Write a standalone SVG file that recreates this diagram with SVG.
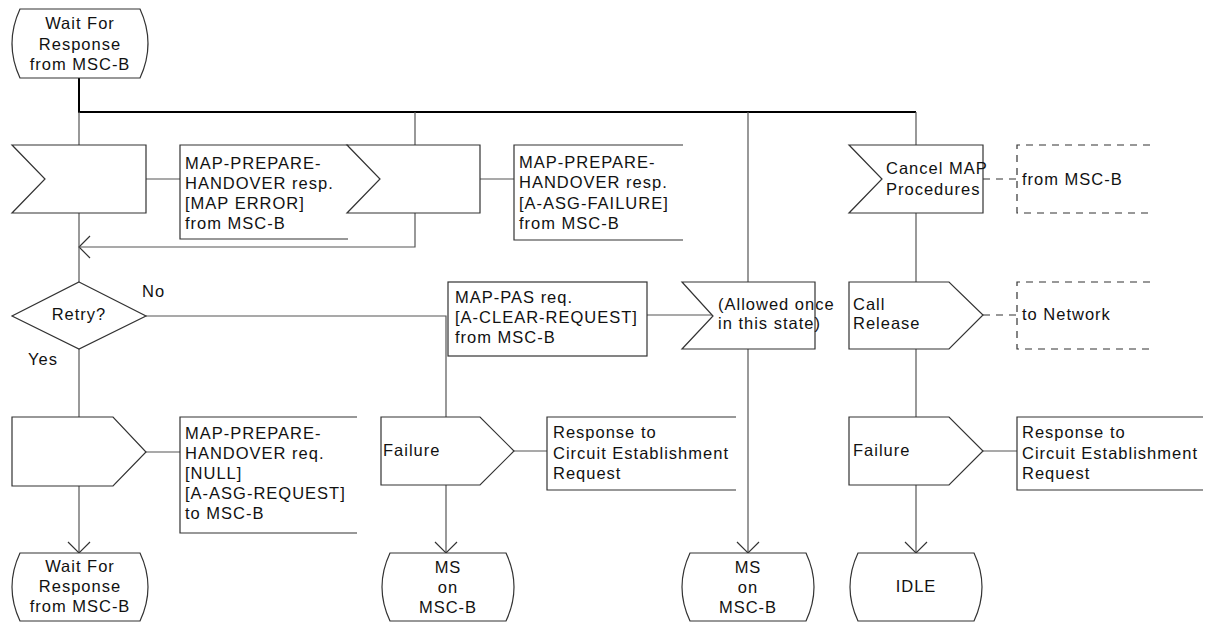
<svg xmlns="http://www.w3.org/2000/svg" width="1207" height="623" viewBox="0 0 1207 623">
<style>
.s{fill:#fff;stroke:#333;stroke-width:1.2}
.c{fill:none;stroke:#555;stroke-width:1.2}
.k{fill:none;stroke:#000;stroke-width:2}
.d{fill:none;stroke:#333;stroke-width:1.2;stroke-dasharray:7,6}
.b{fill:none;stroke:#333;stroke-width:1.2}
text{font-family:"Liberation Sans",Arial,sans-serif;font-size:16.5px;letter-spacing:1px;fill:#111}
.m{text-anchor:middle}
</style>
<defs>
<marker id="ar" markerUnits="userSpaceOnUse" markerWidth="24" markerHeight="24" viewBox="-12 -12 24 24" refX="0" refY="0" orient="auto">
<path d="M-11,-11 L0,0 L-11,11" fill="none" stroke="#333" stroke-width="1.2"/>
</marker>
</defs>
<g id="connectors">
<path class="k" d="M79,78 V112 H916"/>
<path class="c" d="M79,112 V145 M415,112 V145 M748,112 V282 M916,112 V145"/>
<path class="c" d="M146,179 H180 M480,179 H514"/>
<path class="c" d="M415,213 V247 H79" marker-end="url(#ar)"/>
<path class="c" d="M79,213 V282"/>
<path class="c" d="M146,316 H446 V417"/>
<path class="c" d="M79,349 V417"/>
<path class="c" d="M146,452 H180"/>
<path class="c" d="M79,486 V553" marker-end="url(#ar)"/>
<path class="c" d="M446,485 V553" marker-end="url(#ar)"/>
<path class="c" d="M514,451 H547"/>
<path class="c" d="M647,315 H713"/>
<path class="c" d="M748,349 V553" marker-end="url(#ar)"/>
<path class="d" d="M983,179 H1017"/>
<path class="c" d="M916,213 V282"/>
<path class="d" d="M983,315 H1017"/>
<path class="c" d="M916,349 V417"/>
<path class="c" d="M983,451 H1017"/>
<path class="c" d="M916,485 V553" marker-end="url(#ar)"/>
</g>
<g id="state_top">
<path class="s" d="M20,9 H140 Q156,43.5 140,78 H20 Q4,43.5 20,9 Z"/>
<text class="m" x="80" y="29">Wait For</text>
<text class="m" x="80" y="50">Response</text>
<text class="m" x="80" y="70">from MSC-B</text>
</g>
<g id="input_map_error">
<polygon class="s" points="12,145 146,145 146,213 12,213 45,179"/>
</g>
<g id="comment_map_error">
<path class="b" d="M348,145 H180 V239 H348"/>
<text x="185" y="169">MAP-PREPARE-</text>
<text x="185" y="189">HANDOVER resp.</text>
<text x="185" y="209">[MAP ERROR]</text>
<text x="185" y="229">from MSC-B</text>
</g>
<g id="input_asg_failure">
<polygon class="s" points="347,145 480,145 480,213 347,213 380,179"/>
</g>
<g id="comment_asg_failure">
<path class="b" d="M683,145 H514 V240 H683"/>
<text x="519" y="168">MAP-PREPARE-</text>
<text x="519" y="188">HANDOVER resp.</text>
<text x="519" y="209">[A-ASG-FAILURE]</text>
<text x="519" y="229">from MSC-B</text>
</g>
<g id="input_cancel">
<polygon class="s" points="849,145 983,145 983,213 849,213 882,179"/>
<text x="886" y="174">Cancel MAP</text>
<text x="886" y="195">Procedures</text>
</g>
<g id="ext_from_mscb">
<path class="d" d="M1150,145 H1017 V213 H1150"/>
<text x="1022" y="185">from MSC-B</text>
</g>
<g id="decision_retry">
<polygon class="s" points="79,282 146,316 79,349 12,316"/>
<text class="m" x="79" y="320">Retry?</text>
<text x="142" y="297">No</text>
<text x="28" y="365">Yes</text>
</g>
<g id="comment_map_pas">
<rect class="b" x="448" y="282" width="199" height="74"/>
<text x="455" y="303">MAP-PAS req.</text>
<text x="455" y="323">[A-CLEAR-REQUEST]</text>
<text x="455" y="343">from MSC-B</text>
</g>
<g id="input_allowed">
<polygon class="s" points="682,282 815,282 815,349 682,349 713,316"/>
<text x="718" y="310">(Allowed once</text>
<text x="718" y="329">in this state)</text>
</g>
<g id="output_call_release">
<polygon class="s" points="849,282 949,282 983,315 949,349 849,349"/>
<text x="853" y="310">Call</text>
<text x="853" y="329">Release</text>
</g>
<g id="ext_to_network">
<path class="d" d="M1150,282 H1017 V349 H1150"/>
<text x="1022" y="320">to Network</text>
</g>
<g id="output_prepare_req">
<polygon class="s" points="12,417 113,417 146,452 113,486 12,486"/>
</g>
<g id="comment_prepare_req">
<path class="b" d="M357,417 H180 V533 H357"/>
<text x="185" y="439">MAP-PREPARE-</text>
<text x="185" y="459">HANDOVER req.</text>
<text x="185" y="479">[NULL]</text>
<text x="185" y="499">[A-ASG-REQUEST]</text>
<text x="185" y="519">to MSC-B</text>
</g>
<g id="output_failure_mid">
<polygon class="s" points="381,417 480,417 514,451 480,485 381,485"/>
<text x="383" y="456">Failure</text>
</g>
<g id="comment_failure_mid">
<path class="b" d="M736,417 H547 V490 H736"/>
<text x="553" y="438">Response to</text>
<text x="553" y="459">Circuit Establishment</text>
<text x="553" y="479">Request</text>
</g>
<g id="output_failure_right">
<polygon class="s" points="849,417 949,417 983,451 949,485 849,485"/>
<text x="853" y="456">Failure</text>
</g>
<g id="comment_failure_right">
<path class="b" d="M1203,417 H1017 V490 H1203"/>
<text x="1022" y="438">Response to</text>
<text x="1022" y="459">Circuit Establishment</text>
<text x="1022" y="479">Request</text>
</g>
<g id="state_wait_bottom">
<path class="s" d="M20,553 H140 Q156,587 140,621 H20 Q4,587 20,553 Z"/>
<text class="m" x="80" y="572">Wait For</text>
<text class="m" x="80" y="592">Response</text>
<text class="m" x="80" y="612">from MSC-B</text>
</g>
<g id="state_ms_mid">
<path class="s" d="M390,553 H506 Q522,587 506,621 H390 Q374,587 390,553 Z"/>
<text class="m" x="448" y="573">MS</text>
<text class="m" x="448" y="593">on</text>
<text class="m" x="448" y="613">MSC-B</text>
</g>
<g id="state_ms_right">
<path class="s" d="M690,553 H806 Q822,587 806,621 H690 Q674,587 690,553 Z"/>
<text class="m" x="748" y="573">MS</text>
<text class="m" x="748" y="593">on</text>
<text class="m" x="748" y="613">MSC-B</text>
</g>
<g id="state_idle">
<path class="s" d="M858,553 H974 Q990,587 974,621 H858 Q842,587 858,553 Z"/>
<text class="m" x="916" y="592">IDLE</text>
</g>
</svg>
